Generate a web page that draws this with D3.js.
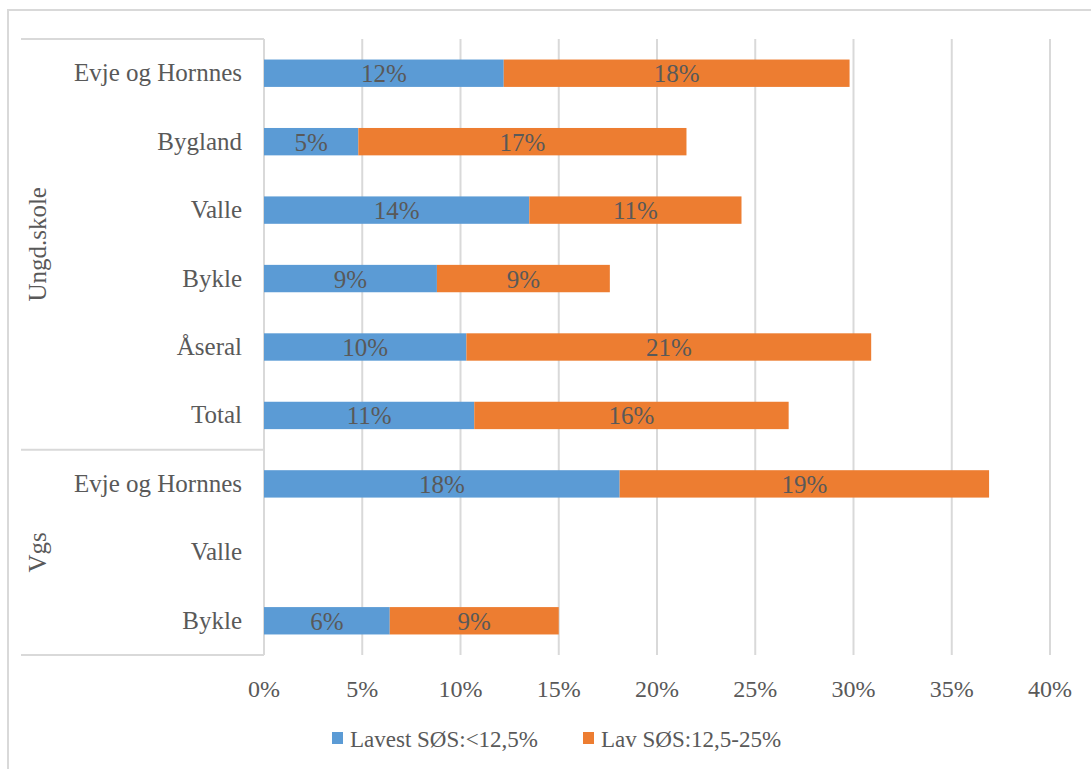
<!DOCTYPE html>
<html>
<head>
<meta charset="utf-8">
<script src="https://cdn.jsdelivr.net/npm/d3@7"></script>
<style>
  body { margin: 0; background: #fff; }
  text { font-family: "Liberation Serif", "DejaVu Serif", serif; fill: #595959; }
</style>
</head>
<body>
<div id="chart"></div>
<script>
var categories = ["Evje og Hornnes", "Bygland", "Valle", "Bykle", "Åseral", "Total",
                  "Evje og Hornnes", "Valle", "Bykle"];
var groups = ["Ungd.skole", "Ungd.skole", "Ungd.skole", "Ungd.skole", "Ungd.skole", "Ungd.skole",
              "Vgs", "Vgs", "Vgs"];
var lavest = [0.122, 0.048, 0.135, 0.088, 0.103, 0.107, 0.181, 0, 0.064];
var lav    = [0.176, 0.167, 0.108, 0.088, 0.206, 0.160, 0.188, 0, 0.086];
var seriesNames = ["Lavest SØS:<12,5%", "Lav SØS:12,5-25%"];
var colors = ["#5b9bd5", "#ed7d31"];
var ticks = [0, 0.05, 0.10, 0.15, 0.20, 0.25, 0.30, 0.35, 0.40];

var width = 1091, height = 769;
var margin = {top: 39, right: 41, bottom: 114, left: 264};

var svg = d3.select("#chart").append("svg")
    .attr("width", width)
    .attr("height", height);

// outer frame
svg.append("rect")
    .attr("x", 8).attr("y", 10)
    .attr("width", width).attr("height", height)
    .attr("fill", "none")
    .attr("stroke", "#d9d9d9")
    .attr("stroke-width", 2);

var rows = categories.map(function(c, i) {
  return {i: i, cat: c, group: groups[i], vals: [lavest[i], lav[i]]};
});

var x = d3.scaleLinear().domain([0, 0.4]).range([margin.left, width - margin.right]);
var y = d3.scaleBand().domain(d3.range(categories.length))
    .range([margin.top, height - margin.bottom]).paddingInner(0.6).paddingOuter(0.3);
var yb = d3.scaleBand().domain(d3.range(categories.length))
    .range([margin.top, height - margin.bottom]);

// gridlines
svg.append("g").selectAll("line").data(ticks).enter().append("line")
    .attr("x1", function(d) { return x(d); })
    .attr("x2", function(d) { return x(d); })
    .attr("y1", margin.top)
    .attr("y2", height - margin.bottom)
    .attr("stroke", "#d9d9d9")
    .attr("stroke-width", 2);

// x tick labels
svg.append("g").selectAll("text").data(ticks).enter().append("text")
    .attr("x", function(d) { return x(d); })
    .attr("y", height - margin.bottom + 42)
    .attr("text-anchor", "middle")
    .attr("font-size", 24)
    .text(d3.format(".0%"));

// stacked bars
var stack = d3.stack().keys([0, 1]).value(function(d, k) { return d.vals[k]; });
var layers = stack(rows);

var layer = svg.append("g").selectAll("g").data(layers).enter().append("g")
    .attr("fill", function(d, i) { return colors[i]; });

layer.selectAll("rect").data(function(d) { return d; }).enter()
  .filter(function(d) { return d[1] - d[0] > 0; })
  .append("rect")
    .attr("x", function(d) { return x(d[0]); })
    .attr("width", function(d) { return x(d[1]) - x(d[0]); })
    .attr("y", function(d) { return y(d.data.i); })
    .attr("height", y.bandwidth());

layer.selectAll("text").data(function(d) { return d; }).enter()
  .filter(function(d) { return d[1] - d[0] > 0; })
  .append("text")
    .attr("x", function(d) { return x((d[0] + d[1]) / 2); })
    .attr("y", function(d) { return y(d.data.i) + y.bandwidth() / 2 + 9; })
    .attr("text-anchor", "middle")
    .attr("font-size", 25)
    .attr("fill", "#404040")
    .text(function(d) { return d3.format(".0%")(d[1] - d[0]); });

// category labels
svg.append("g").selectAll("text").data(rows).enter().append("text")
    .attr("x", margin.left - 22)
    .attr("y", function(d) { return yb(d.i) + yb.bandwidth() / 2 + 8; })
    .attr("text-anchor", "end")
    .attr("font-size", 25)
    .text(function(d) { return d.cat; });

// group boxes
var groupNames = Array.from(new Set(groups));
var groupInfo = groupNames.map(function(g) {
  var idx = rows.filter(function(r) { return r.group === g; }).map(function(r) { return r.i; });
  return {name: g, y0: yb(d3.min(idx)), y1: yb(d3.max(idx)) + yb.bandwidth()};
});

var sepY = [margin.top].concat(groupInfo.map(function(g) { return g.y1; }));
svg.append("g").selectAll("line").data(sepY).enter().append("line")
    .attr("x1", 21).attr("x2", margin.left)
    .attr("y1", function(d) { return d; })
    .attr("y2", function(d) { return d; })
    .attr("stroke", "#d9d9d9")
    .attr("stroke-width", 2);

svg.append("g").selectAll("text").data(groupInfo).enter().append("text")
    .attr("transform", function(d) { return "translate(46," + (d.y0 + d.y1) / 2 + ") rotate(-90)"; })
    .attr("text-anchor", "middle")
    .attr("font-size", 25)
    .text(function(d) { return d.name; });

// legend
var legend = svg.append("g").attr("transform", "translate(332,732)");
var legX = [0, 251];
seriesNames.forEach(function(s, i) {
  var g = legend.append("g").attr("transform", "translate(" + legX[i] + ",0)");
  g.append("rect").attr("width", 11).attr("height", 12).attr("fill", colors[i]);
  g.append("text")
    .attr("x", 18)
    .attr("y", 15)
    .attr("font-size", 23)
    .text(s);
});
</script>
</body>
</html>
